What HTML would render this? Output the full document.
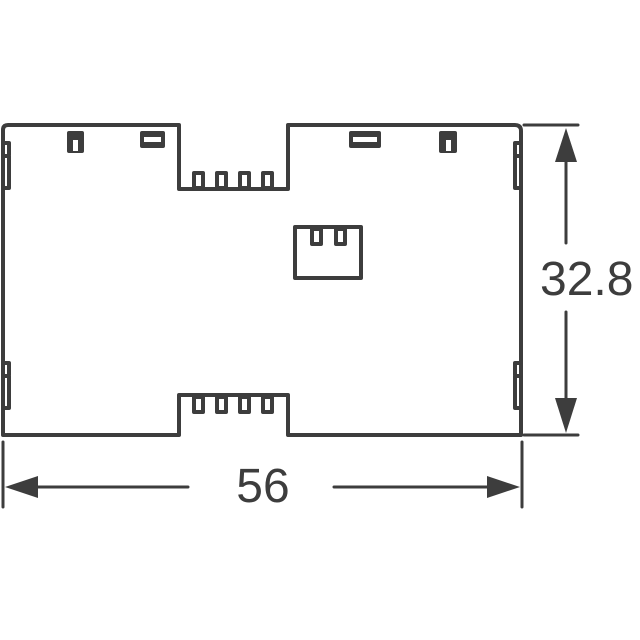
<!DOCTYPE html>
<html><head><style>html,body{margin:0;padding:0;background:#fff}svg{display:block}</style></head>
<body>
<svg width="640" height="640" viewBox="0 0 640 640" xmlns="http://www.w3.org/2000/svg">
<g fill="none" stroke="#3d3d3d" stroke-width="4" stroke-linejoin="round" stroke-linecap="round">
<path d="M3 435 V130 Q3 125 8 125 H179 V189 H288 V125 H515 Q521 125 521 131 V435 H288 V395 H179 V435 Z"/>
<rect x="194" y="173" width="9" height="15"/>
<rect x="217" y="173" width="9" height="15"/>
<rect x="240" y="173" width="9" height="15"/>
<rect x="263" y="173" width="9" height="15"/>
<rect x="194" y="397" width="9" height="15"/>
<rect x="217" y="397" width="9" height="15"/>
<rect x="240" y="397" width="9" height="15"/>
<rect x="263" y="397" width="9" height="15"/>
<rect x="295" y="227" width="66" height="51"/>
<rect x="312" y="229" width="9" height="15"/>
<rect x="336" y="229" width="9" height="15"/>
<path d="M4 143 H9 V155 M4 156 H9 V188 H4"/>
<path d="M4 363 H9 V375 M4 376 H9 V408 H4"/>
<path d="M520 143 H515 V155 M520 156 H515 V188 H520"/>
<path d="M520 363 H515 V375 M520 376 H515 V408 H520"/>
<path d="M524 125 H578 M524 435 H578" stroke-width="3"/>
<path d="M566 145 V243 M566 312 V415" stroke-width="3"/>
<path d="M3 442 V507 M522 442 V507" stroke-width="3"/>
<path d="M25 487 H188 M334 487 H500" stroke-width="3"/>
</g>
<g fill="#3d3d3d">
<rect x="67" y="131" width="17" height="22" rx="2"/>
<rect x="140" y="131" width="25" height="17" rx="2"/>
<rect x="349" y="131" width="32" height="17" rx="2"/>
<rect x="439" y="131" width="18" height="22" rx="2"/>
<path d="M566 128 L555 162 H577 Z"/>
<path d="M566 433 L555 398 H577 Z"/>
<path d="M5 487 L38 476 V498 Z"/>
<path d="M520 487 L487 476 V498 Z"/>
</g>
<g fill="#fff">
<rect x="73" y="140" width="5" height="11"/>
<rect x="144" y="137" width="17" height="5"/>
<rect x="353" y="137" width="24" height="5"/>
<rect x="446" y="140" width="5" height="11"/>
</g>
<g font-family="Liberation Sans, sans-serif" font-size="48" fill="#3d3d3d">
<text x="540" y="295">32.8</text>
<text x="263" y="502" text-anchor="middle">56</text>
</g>
</svg>
</body></html>
